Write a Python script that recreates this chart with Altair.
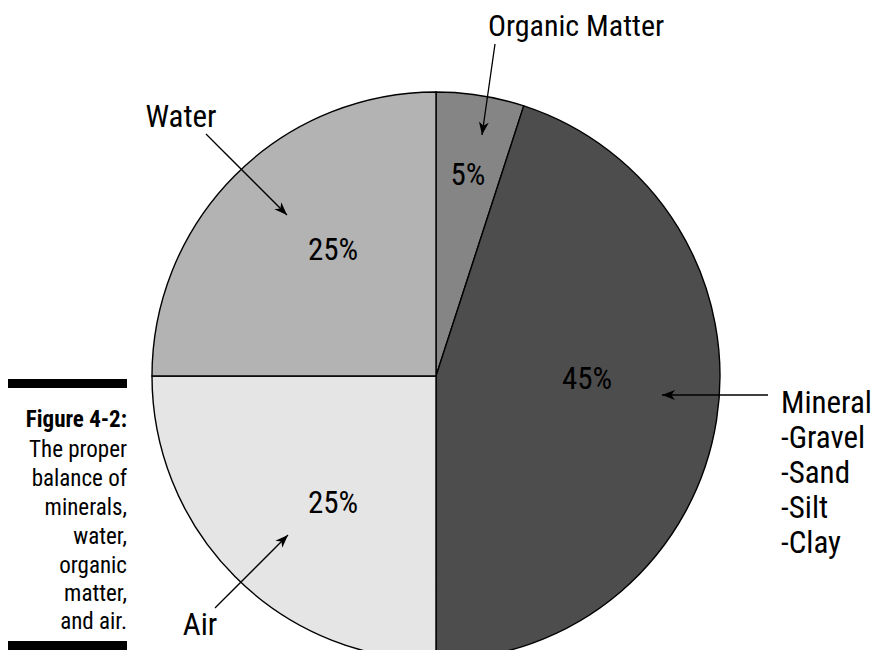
import math
import altair as alt
import pandas as pd

# ---- data -------------------------------------------------------------
categories = ["Organic Matter", "Mineral", "Air", "Water"]
shares = [5, 45, 25, 25]
pct_labels = ["5%", "45%", "25%", "25%"]
slice_colors = ["#858585", "#4d4d4d", "#e5e5e5", "#b3b3b3"]

name_labels = ["Organic Matter", "Water", "Air"]
mineral_lines = ["Mineral", "-Gravel", "-Sand", "-Silt", "-Clay"]
caption_title = "Figure 4-2:"
caption_lines = ["The proper", "balance of", "minerals,", "water,",
                 "organic", "matter,", "and air."]

# ---- layout (page pixel coordinates) ---------------------------------
W, H = 865, 642
CX, CY, R = 436, 376, 284
FONT = "Liberation Sans Narrow, Roboto Condensed, DejaVu Sans Condensed, Arial Narrow, sans-serif"

pct_x = [468, 587, 333, 333]
pct_y = [185, 389, 513, 260]

name_x = [576, 181, 200]
name_y = [36, 127, 635]
name_size = [30, 31, 31]

mineral_x = 781
mineral_y = [413, 448, 483, 518, 553]

cap_x = 127
cap_title_y = 427
cap_y = [457, 486, 515, 544, 573, 601, 629]
bar_x = [7, 127]
bar_y = [(379, 388), (641, 650)]

arrow_from = [(495, 44), (206, 134), (768, 395), (215, 608)]
arrow_to = [(482, 135), (287, 215), (662, 395), (288, 535)]

xs = alt.Scale(domain=[8, 8 + W], range=[0, W])
ys = alt.Scale(domain=[8 + H, 8])
X = lambda f: alt.X(f, type="quantitative", scale=xs, axis=None)
Y = lambda f: alt.Y(f, type="quantitative", scale=ys, axis=None)

# ---- pie ------------------------------------------------------------
pie_df = pd.DataFrame({"category": categories, "share": shares,
                       "idx": list(range(len(categories)))})
pie = alt.Chart(pie_df).mark_arc(
    outerRadius=R, stroke="black", strokeWidth=1.4
).encode(
    theta=alt.Theta("share:Q", stack=True),
    color=alt.Color("category:N", scale=alt.Scale(domain=categories, range=slice_colors), legend=None),
    order=alt.Order("idx:Q"),
    x=alt.value(CX - 8),
    y=alt.value(CY - 8),
)


def text_layer(texts, xv, yv, size, align, weight="normal"):
    df = pd.DataFrame({"t": texts, "x": xv, "y": yv})
    return alt.Chart(df).mark_text(
        font=FONT, fontSize=size, align=align, baseline="alphabetic",
        fontWeight=weight, color="black"
    ).encode(x=X("x"), y=Y("y"), text="t:N")


pcts = text_layer(pct_labels, pct_x, pct_y, 31, "center")
name_layers = [text_layer([t], [x], [y], s, "center")
               for t, x, y, s in zip(name_labels, name_x, name_y, name_size)]
mineral = text_layer(mineral_lines, [mineral_x] * len(mineral_lines), mineral_y, 31, "left")
cap_t = text_layer([caption_title], [cap_x], [cap_title_y], 23, "right", "bold")
cap_l = text_layer(caption_lines, [cap_x] * len(caption_lines), cap_y, 23, "right")

# ---- arrows ---------------------------------------------------------
adf = pd.DataFrame({
    "x1": [p[0] for p in arrow_from], "y1": [p[1] for p in arrow_from],
    "x2": [p[0] for p in arrow_to], "y2": [p[1] for p in arrow_to],
})
adf["ang"] = [
    math.degrees(math.atan2(b[0] - a[0], -(b[1] - a[1]))) % 360
    for a, b in zip(arrow_from, arrow_to)
]
shafts = alt.Chart(adf).mark_rule(color="black", strokeWidth=1.3).encode(
    x=X("x1"), y=Y("y1"), x2="x2:Q", y2="y2:Q")
heads = alt.Chart(adf).mark_point(
    shape="M0,0 L0.38,1 L0,0.72 L-0.38,1 Z", filled=True, color="black",
    opacity=1, size=676, strokeWidth=0
).encode(x=X("x2"), y=Y("y2"), angle=alt.Angle("ang:Q", scale=None))

# ---- caption bars ---------------------------------------------------
bdf = pd.DataFrame({"x1": [bar_x[0]] * 2, "x2": [bar_x[1]] * 2,
                    "y1": [b[0] for b in bar_y], "y2": [b[1] for b in bar_y]})
bars = alt.Chart(bdf).mark_rect(color="black").encode(
    x=X("x1"), x2="x2:Q", y=Y("y1"), y2="y2:Q")

chart = alt.layer(pie, bars, shafts, heads, pcts, *name_layers, mineral, cap_t, cap_l).properties(
    width=W, height=H, autosize=alt.AutoSizeParams(type="none"), padding=0
).configure(background="white").configure_view(stroke=None, strokeWidth=0)

chart.save("out.html", embed_options={"renderer": "svg", "actions": False})
